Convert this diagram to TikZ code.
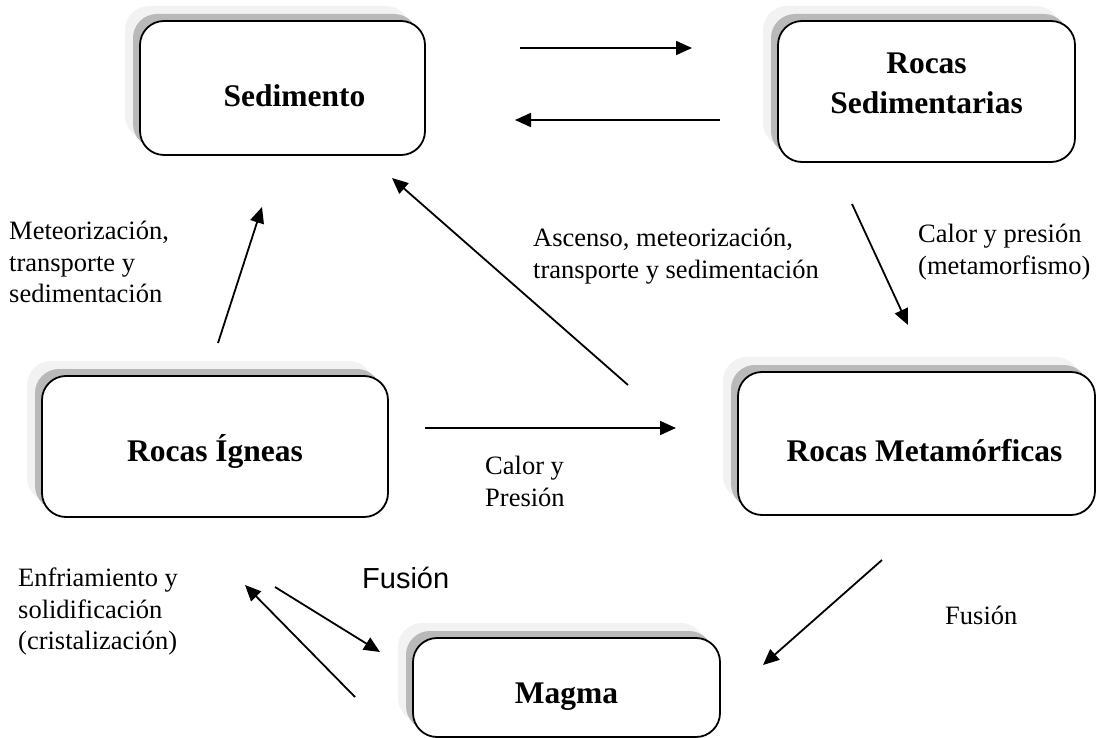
\documentclass[tikz,border=0pt]{standalone}
\usepackage{fontspec}
\setmainfont{Liberation Serif}
\newfontfamily\arialfont{Liberation Sans}
\usetikzlibrary{arrows.meta,shadows}

% mueve el texto dentro de la caja sin cambiar su tamano
\newcommand{\mover}[3]{\raisebox{-#2}[\height][\depth]{\hspace*{#1}#3\hspace*{-#1}}}

\tikzset{
    roca/.style={draw, line width=1.8pt, rounded corners=24pt, fill=white,
        align=center, font=\fontsize{31.5}{36}\selectfont\bfseries,
        general shadow={fill=gray!10, shadow xshift=-15pt, shadow yshift=15pt},
        general shadow={fill=gray!55, shadow xshift=-7pt, shadow yshift=7pt}},
    flecha/.style={line width=1.8pt, -{Triangle[length=16pt,width=14pt]}},
    rotulo/.style={anchor=north west, inner sep=0pt, align=left,
        font=\fontsize{26.5}{31.5}\selectfont}
}

\begin{document}
\begin{tikzpicture}[x=1pt, y=-1pt]
    \useasboundingbox (0,0) rectangle (1098,738);

    % cajas
    \node[roca, minimum width=285pt, minimum height=134pt] (sedimento) at (282.5,88) {\mover{12pt}{8pt}{Sedimento}};
    \node[roca, minimum width=297pt, minimum height=141pt] (sedimentarias) at (926.5,91.5)
        {\mover{0pt}{-5pt}{\begin{tabular}{@{}c@{}}Rocas\\[4pt]Sedimentarias\end{tabular}}};
    \node[roca, minimum width=346pt, minimum height=141pt] (igneas) at (215,446.5) {\mover{0pt}{5pt}{Rocas Ígneas}};
    \node[roca, minimum width=357pt, minimum height=143pt] (metamorficas) at (916.5,443.5) {\mover{8pt}{7pt}{Rocas Metamórficas}};
    \node[roca, minimum width=307pt, minimum height=99pt] (magma) at (566.5,687.5) {\mover{0pt}{9pt}{Magma}};

    % extremos de las flechas
    \coordinate (sedA) at (520,48);   \coordinate (sedB) at (692,48);
    \coordinate (litA) at (720,120);  \coordinate (litB) at (515,120);
    \coordinate (ignA) at (218,343);  \coordinate (ignB) at (262,207);
    \coordinate (ascA) at (628,385);  \coordinate (ascB) at (392,178);
    \coordinate (metA) at (852,204);  \coordinate (metB) at (908,325);
    \coordinate (calA) at (425,428);  \coordinate (calB) at (676,428);
    \coordinate (fusA) at (882,560);  \coordinate (fusB) at (763,665);
    \coordinate (magA) at (275,587);  \coordinate (magB) at (380,652);
    \coordinate (enfA) at (355,697);  \coordinate (enfB) at (245,585);

    \draw[flecha] (sedA) -- (sedB);
    \draw[flecha] (litA) -- (litB);
    \draw[flecha] (ignA) -- (ignB);
    \draw[flecha] (ascA) -- (ascB);
    \draw[flecha] (metA) -- (metB);
    \draw[flecha] (calA) -- (calB);
    \draw[flecha] (fusA) -- (fusB);
    \draw[flecha] (magA) -- (magB);
    \draw[flecha] (enfA) -- (enfB);

    % rotulos
    \node[rotulo] (meteo) at (9,221) {Meteorización,\\transporte y\\sedimentación};
    \node[rotulo] (ascenso) at (533,228) {Ascenso, meteorización,\\transporte y sedimentación};
    \node[rotulo] (calorpres) at (918,224) {Calor y presión\\(metamorfismo)};
    \node[rotulo] (calory) at (485,456) {Calor y\\Presión};
    \node[rotulo] (enfria) at (18,568) {Enfriamiento y\\solidificación\\(cristalización)};
    \node[rotulo, font=\arialfont\fontsize{29}{34}\selectfont] (fusion) at (362,567) {Fusión};
    \node[rotulo] (fusionb) at (945,606) {Fusión};
\end{tikzpicture}
\end{document}
